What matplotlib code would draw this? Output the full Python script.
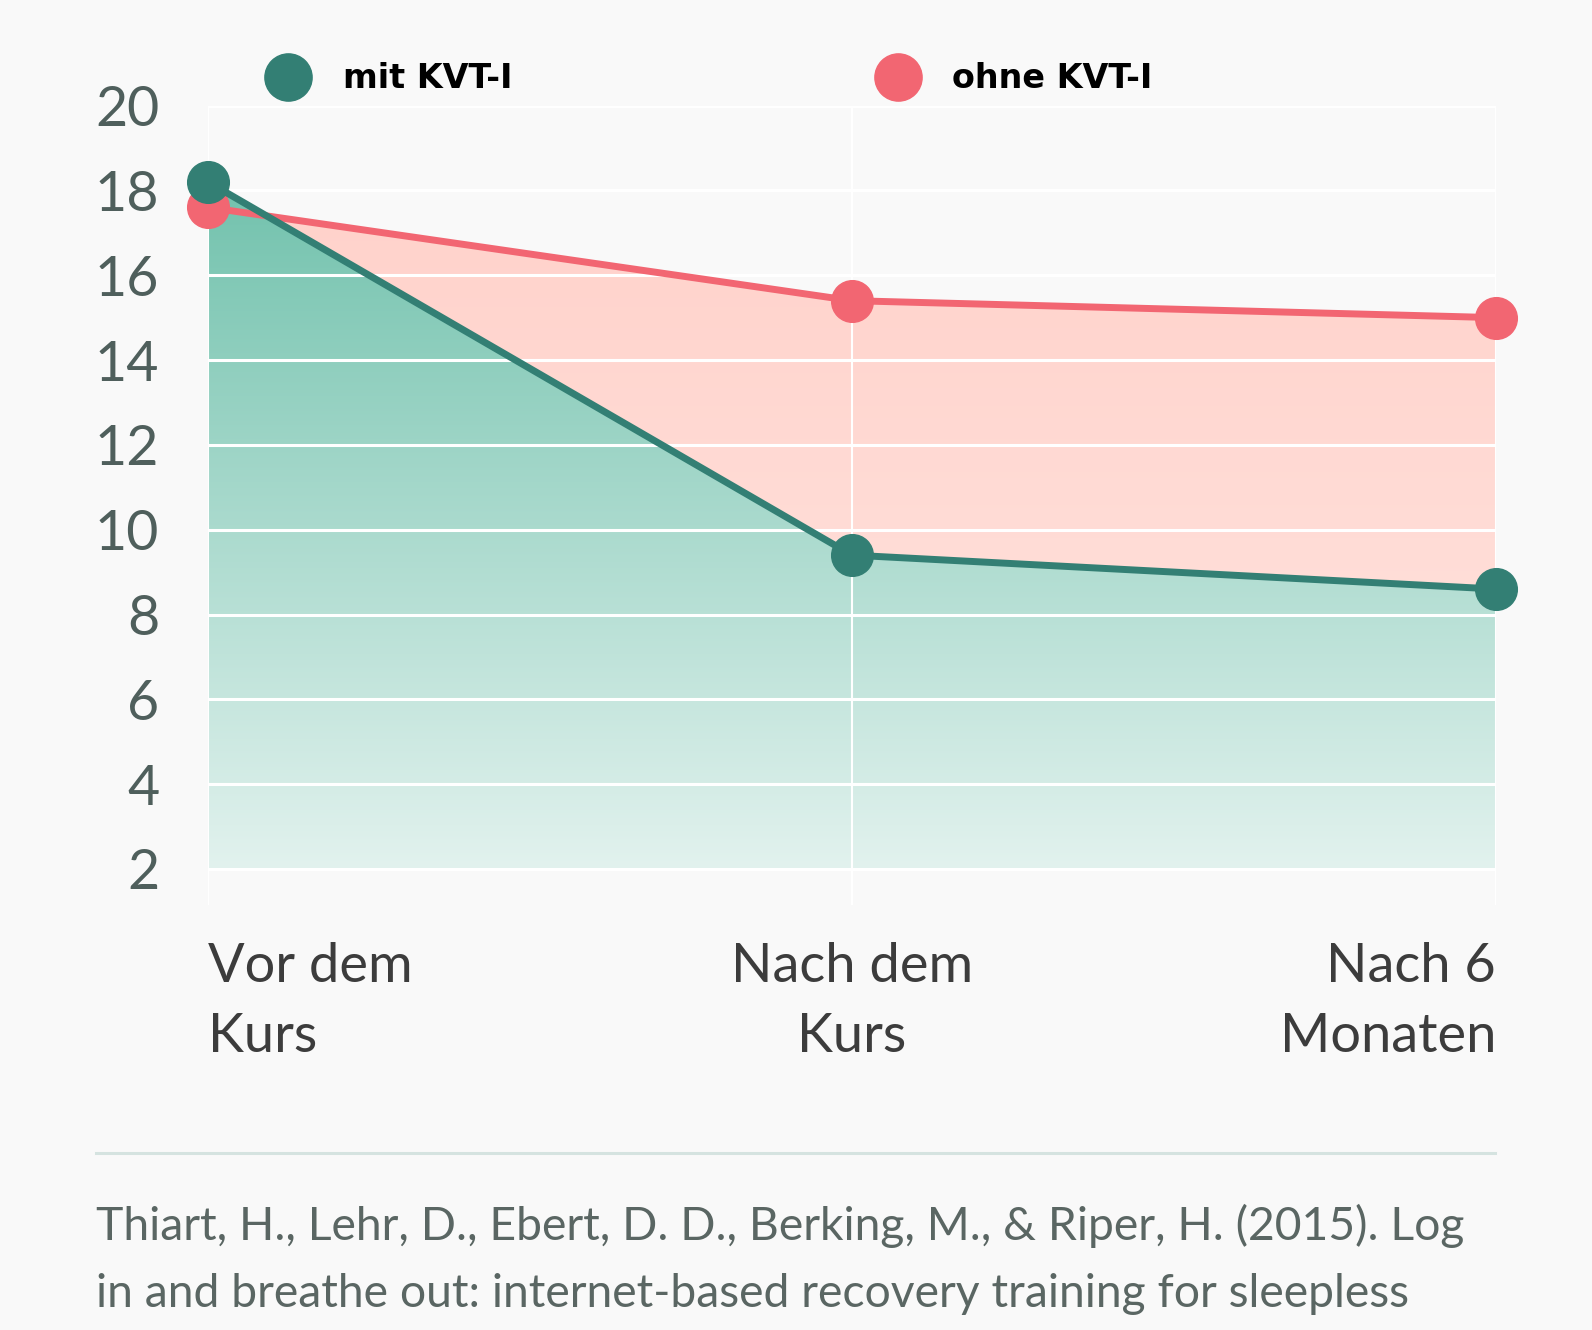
import matplotlib
matplotlib.use("Agg")
import matplotlib.pyplot as plt
import numpy as np
from matplotlib.lines import Line2D
from matplotlib.patches import Polygon

# data
zeitpunkte = ["Vor dem\nKurs", "Nach dem\nKurs", "Nach 6\nMonaten"]
mit_kvt = [18.2, 9.4, 8.6]
ohne_kvt = [17.6, 15.4, 15.0]
y_ticks = [2, 4, 6, 8, 10, 12, 14, 16, 18, 20]
quelle = ["Thiart, H., Lehr, D., Ebert, D. D., Berking, M., & Riper, H. (2015). Log",
          "in and breathe out: internet-based recovery training for sleepless"]

GREEN = "#337f74"
RED = "#f26672"
BG = "#f9f9f9"

plt.rcParams['font.family'] = ['Lato', 'DejaVu Sans']

W, H = 1592, 1330
fig = plt.figure(figsize=(W / 100, H / 100), dpi=100, facecolor=BG)
ax = fig.add_axes([208 / W, 1 - 905 / H, (1496 - 208) / W, (905 - 105.6) / H])
ax.set_facecolor(BG)

x = np.arange(len(zeitpunkte))
base = y_ticks[0]


def gradient_fill(xs, ys, c_top, c_bottom, ymax, zorder):
    verts = [(xs[0], base)] + list(zip(xs, ys)) + [(xs[-1], base)]
    poly = Polygon(verts, closed=True, facecolor="none", edgecolor="none")
    ax.add_patch(poly)
    c1 = np.array(matplotlib.colors.to_rgb(c_top))
    c2 = np.array(matplotlib.colors.to_rgb(c_bottom))
    t = np.linspace(0, 1, 256)[:, None]
    img = (c1 * (1 - t) + c2 * t)[:, None, :]
    im = ax.imshow(img, extent=[xs[0], xs[-1], base, ymax], aspect="auto",
                   origin="upper", zorder=zorder)
    im.set_clip_path(poly)


gradient_fill(x, ohne_kvt, "#ffd2cb", "#ffe6e1", max(ohne_kvt), 1)
gradient_fill(x, mit_kvt, "#72c2ad", "#e2f2ee", max(mit_kvt), 2)

ax.set_xlim(x[0], x[-1])
ax.set_ylim(1.15, 20)

for yt in y_ticks:
    ax.axhline(yt, color="white", lw=2.2, zorder=3)
for xv in x:
    ax.axvline(xv, color="white", lw=1.5, zorder=3)

ax.plot(x, ohne_kvt, color=RED, lw=5, marker="o", ms=30, zorder=5,
        clip_on=False, label="ohne KVT-I")
ax.plot(x, mit_kvt, color=GREEN, lw=5, marker="o", ms=30, zorder=6,
        clip_on=False, label="mit KVT-I")

for s in ax.spines.values():
    s.set_visible(False)

ax.set_yticks(y_ticks)
ax.set_yticklabels([str(v) for v in y_ticks], fontsize=40, color="#4f5f5c")
ax.tick_params(axis="y", length=0, pad=35)
ax.set_xticks(x)
ax.set_xticklabels(zeitpunkte, fontsize=39, color="#3c3c3c", linespacing=1.52)
ax.tick_params(axis="x", length=0, pad=27)
labels = ax.get_xticklabels()
labels[0].set_horizontalalignment("left")
labels[1].set_horizontalalignment("center")
labels[-1].set_horizontalalignment("right")

# legend sits above the plot, two columns
handles = [Line2D([], [], color=GREEN, marker="o", ms=34, lw=0),
           Line2D([], [], color=RED, marker="o", ms=34, lw=0)]
ax.legend(handles, ["mit KVT-I", "ohne KVT-I"], ncol=2, frameon=False,
          loc="center left", bbox_to_anchor=(263 / W, 1 - 79 / H),
          bbox_transform=fig.transFigure, handlelength=1.5, handletextpad=0.9,
          columnspacing=10.8, borderaxespad=0, borderpad=0,
          prop={"family": ["DejaVu Sans"], "weight": "bold", "size": 24})

fig.add_artist(Line2D([96 / W, 1495 / W], [1 - 1153 / H, 1 - 1153 / H],
                      color="#d5e3e0", lw=2.2, transform=fig.transFigure))
for i, zeile in enumerate(quelle):
    fig.text(96 / W, 1 - (1240 + 67 * i) / H, zeile, fontsize=33.3,
             color="#5a6663", va="baseline", ha="left")

fig.savefig("out.png", dpi=100, facecolor=BG)
